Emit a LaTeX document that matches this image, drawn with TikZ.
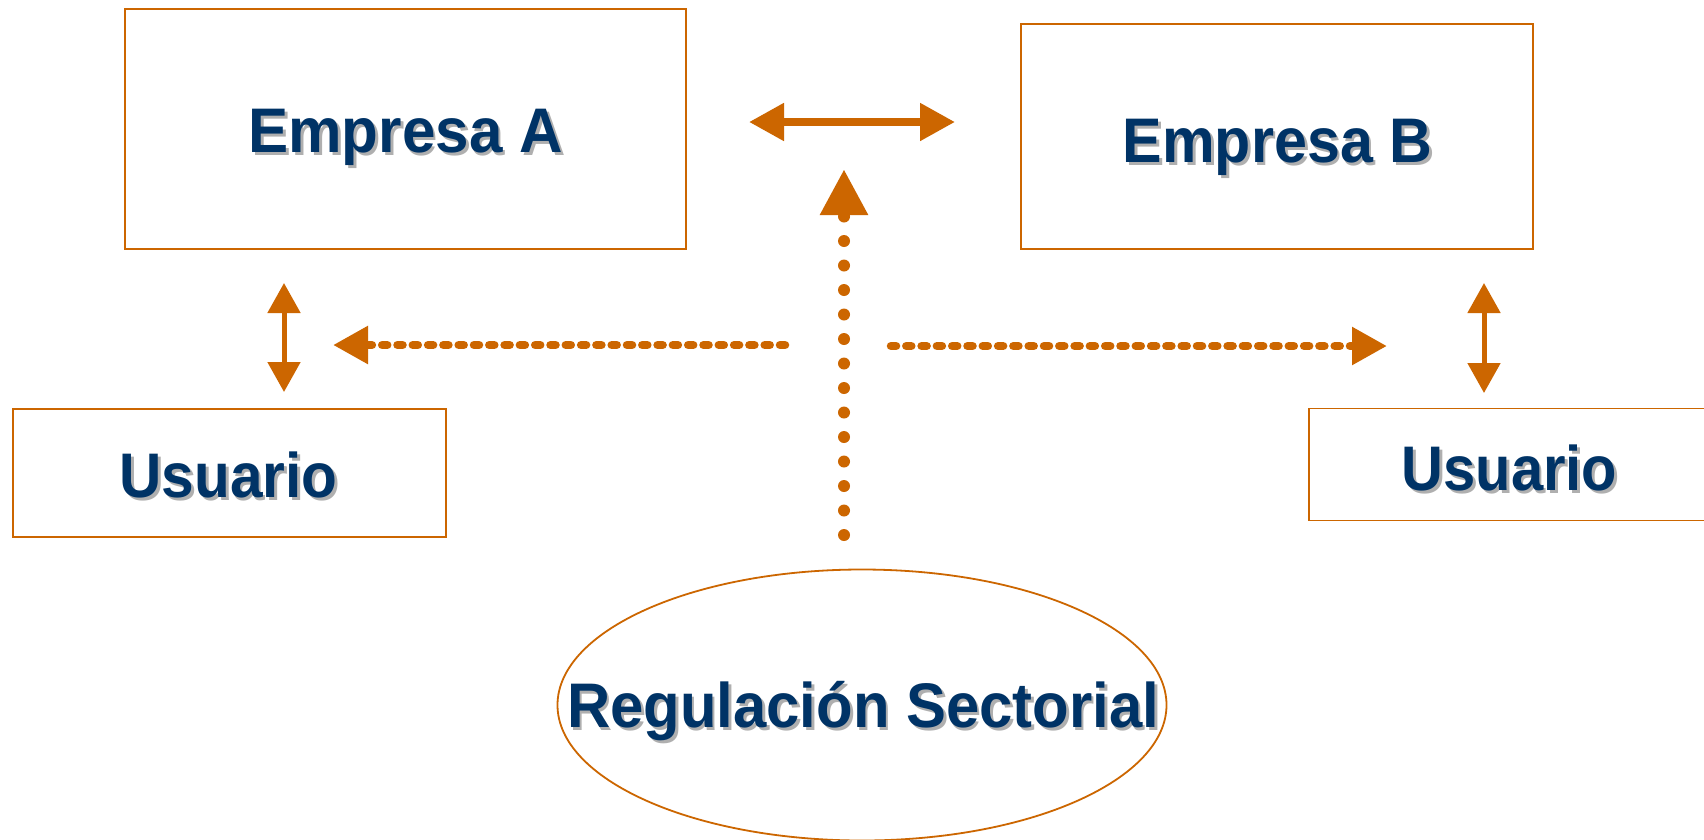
\documentclass[tikz,border=0pt]{standalone}
\usepackage{fontspec}
\setmainfont{Liberation Sans}
\usetikzlibrary{arrows.meta,shapes.geometric}
\definecolor{orng}{RGB}{204,102,0}
\definecolor{navy}{RGB}{0,51,102}
\definecolor{shgray}{RGB}{175,175,175}
\newcommand{\shadowtxt}[2]{\scalebox{#1}[1]{\makebox[0pt][l]{\kern3pt\raisebox{-3pt}{\color{shgray}#2}}{\color{navy}#2}}}
\tikzset{
  boxnode/.style={draw=orng, line width=1.8pt, rectangle, inner sep=0pt},
  lbl/.style={inner sep=0pt, anchor=base, font=\bfseries\fontsize{63}{70}\selectfont},
  solidarrow/.style={draw=orng, line width=8pt},
  dasharrow/.style={draw=orng, line width=8.5pt, line cap=round, dash pattern=on 5pt off 10.3pt},
  dotline/.style={draw=orng, line width=12pt, line cap=round, dash pattern=on 0pt off 24.5pt},
}
\begin{document}
\begin{tikzpicture}[x=1pt,y=-1pt]
\clip (0,0) rectangle (1704,839);
\fill[white] (0,0) rectangle (1704,839);
% boxes
\node[boxnode, minimum width=561pt, minimum height=240pt] (ea) at (405.5,129) {};
\node[boxnode, minimum width=512pt, minimum height=225pt] (eb) at (1277,136.5) {};
\node[boxnode, minimum width=433pt, minimum height=128pt] (ul) at (229.5,473) {};
\node[boxnode, minimum width=420pt, minimum height=112pt] (ur) at (1519,464.5) {};
\node[draw=orng, line width=1.8pt, ellipse, minimum width=609pt, minimum height=271pt, inner sep=0pt] (reg) at (862,705) {};
% labels
\node[lbl] (tea) at (405.5,152) {\shadowtxt{0.955}{Empresa A}};
\node[lbl] (teb) at (1277.5,162) {\shadowtxt{0.94}{Empresa B}};
\node[lbl] (tul) at (228.5,497) {\shadowtxt{0.93}{Usuario}};
\node[lbl] (tur) at (1509.5,490) {\shadowtxt{0.92}{Usuario}};
\node[lbl] (treg) at (863,727) {\shadowtxt{0.95}{Regulación Sectorial}};
% connector end points
\coordinate (h1) at (749,122);
\coordinate (h2) at (955,122);
\coordinate (vt) at (844,169);
\coordinate (vb) at (844,535);
\coordinate (lt) at (333,345);
\coordinate (ls) at (785,345);
\coordinate (rs) at (891,346);
\coordinate (rt) at (1387,346);
\coordinate (la) at (284,283);
\coordinate (lb) at (284,392);
\coordinate (ra) at (1484,283);
\coordinate (rb) at (1484,393);
% connectors
\draw[solidarrow, {Triangle[length=35pt,width=36pt]}-{Triangle[length=35pt,width=36pt]}] (h1) -- (h2);
\draw[dotline, -{Triangle[length=46pt,width=45pt]}] (vb) -- (vt);
\draw[dasharrow, -{Triangle[length=35pt,width=36pt]}] (ls) -- (lt);
\draw[dasharrow, -{Triangle[length=35pt,width=36pt]}] (rs) -- (rt);
\draw[draw=orng, line width=5pt, {Triangle[length=30pt,width=32pt]}-{Triangle[length=30pt,width=32pt]}] (la) -- (lb);
\draw[draw=orng, line width=5pt, {Triangle[length=30pt,width=32pt]}-{Triangle[length=30pt,width=32pt]}] (ra) -- (rb);
\end{tikzpicture}
\end{document}
